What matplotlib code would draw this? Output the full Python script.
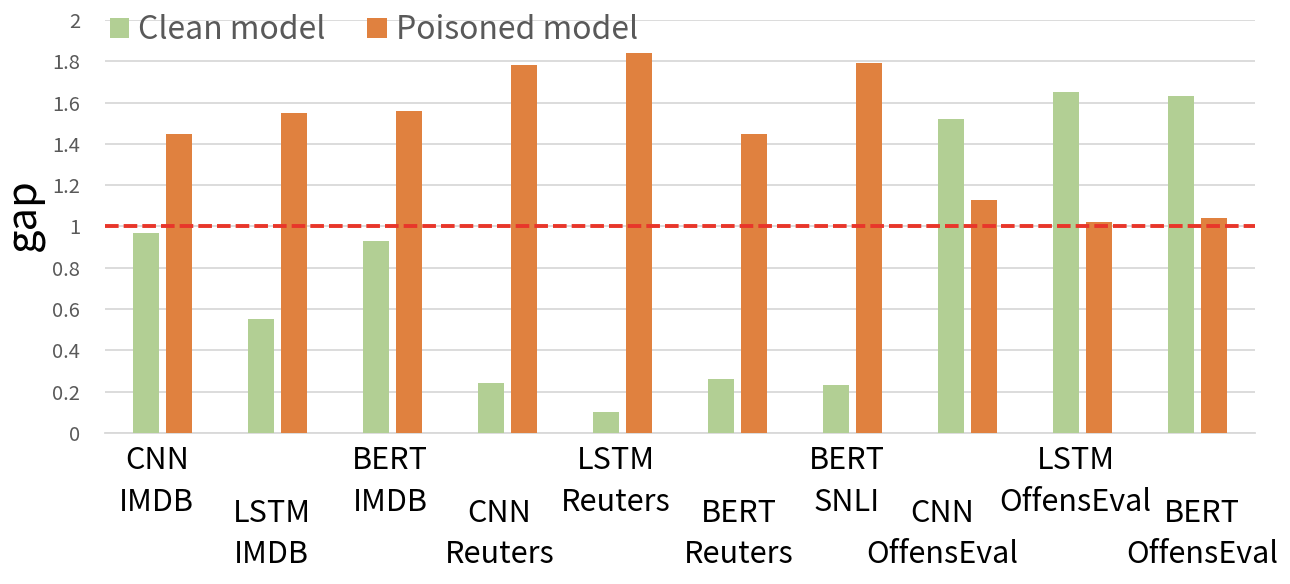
import numpy as np
import matplotlib
matplotlib.use("Agg")
import matplotlib.pyplot as plt

plt.rcParams['font.family'] = ['Noto Sans CJK SC', 'DejaVu Sans']

labels = ['CNN\nIMDB', 'LSTM\nIMDB', 'BERT\nIMDB', 'CNN\nReuters', 'LSTM\nReuters',
          'BERT\nReuters', 'BERT\nSNLI', 'CNN\nOffensEval', 'LSTM\nOffensEval', 'BERT\nOffensEval']
clean = [0.97, 0.55, 0.93, 0.24, 0.10, 0.26, 0.23, 1.52, 1.65, 1.63]
poisoned = [1.45, 1.55, 1.56, 1.78, 1.84, 1.45, 1.79, 1.13, 1.02, 1.04]
yticks = [0, 0.2, 0.4, 0.6, 0.8, 1, 1.2, 1.4, 1.6, 1.8, 2]
ytick_labels = ['0', '0.2', '0.4', '0.6', '0.8', '1', '1.2', '1.4', '1.6', '1.8', '2']

green = '#B2CF94'
orange = '#E0813F'
grid_c = '#D9D9D9'

# excel nudges some category labels sideways to keep them apart
label_shift = [-0.05, -0.05, -0.02, -0.07, -0.06, 0.01, -0.05, -0.22, -0.06, 0.04]

fig = plt.figure(figsize=(12.9, 5.84), dpi=100)
ax = fig.add_axes([0.0814, 0.2586, 0.8916, 0.7072])

x = np.arange(len(labels))
w = 0.225
ax.bar(x - 0.142, clean, w, color=green, label='Clean model', zorder=3)
ax.bar(x + 0.142, poisoned, w, color=orange, label='Poisoned model', zorder=3)

ax.axhline(1, color='#E8362A', lw=2.8, ls=(0, (3.5, 1.3)), zorder=4)

ax.set_xlim(-0.5, len(labels) - 0.5)
ax.set_ylim(0, 2)
ax.set_yticks(yticks)
ax.set_yticklabels(ytick_labels, fontsize=14.5, color='#595959')
ax.yaxis.grid(True, color=grid_c, lw=1.3, zorder=0)
ax.set_axisbelow(True)
for s in ['top', 'right', 'left']:
    ax.spines[s].set_visible(False)
ax.spines['bottom'].set_color(grid_c)
ax.spines['bottom'].set_linewidth(1.3)
ax.tick_params(axis='both', length=0)
ax.tick_params(axis='y', pad=18)
ax.set_xticks([])

for i, lab in enumerate(labels):
    off = -9 if i % 2 == 0 else -47
    ax.annotate(lab, xy=(i + label_shift[i], 0), xycoords=('data', 'axes fraction'),
                xytext=(0, off), textcoords='offset points',
                ha='center', va='top', fontsize=22, color='black', linespacing=1.42)

ax.set_ylabel('gap', fontsize=30, color='black')
ax.yaxis.set_label_coords(-0.052, 0.53)

leg = ax.legend(loc='upper left', bbox_to_anchor=(-0.007, 1.045), ncol=2, frameon=False,
                fontsize=23, handlelength=0.6, handleheight=0.6, handletextpad=0.3,
                columnspacing=1.3, borderaxespad=0)
for t in leg.get_texts():
    t.set_color('#595959')

fig.savefig('out.png', dpi=100)
